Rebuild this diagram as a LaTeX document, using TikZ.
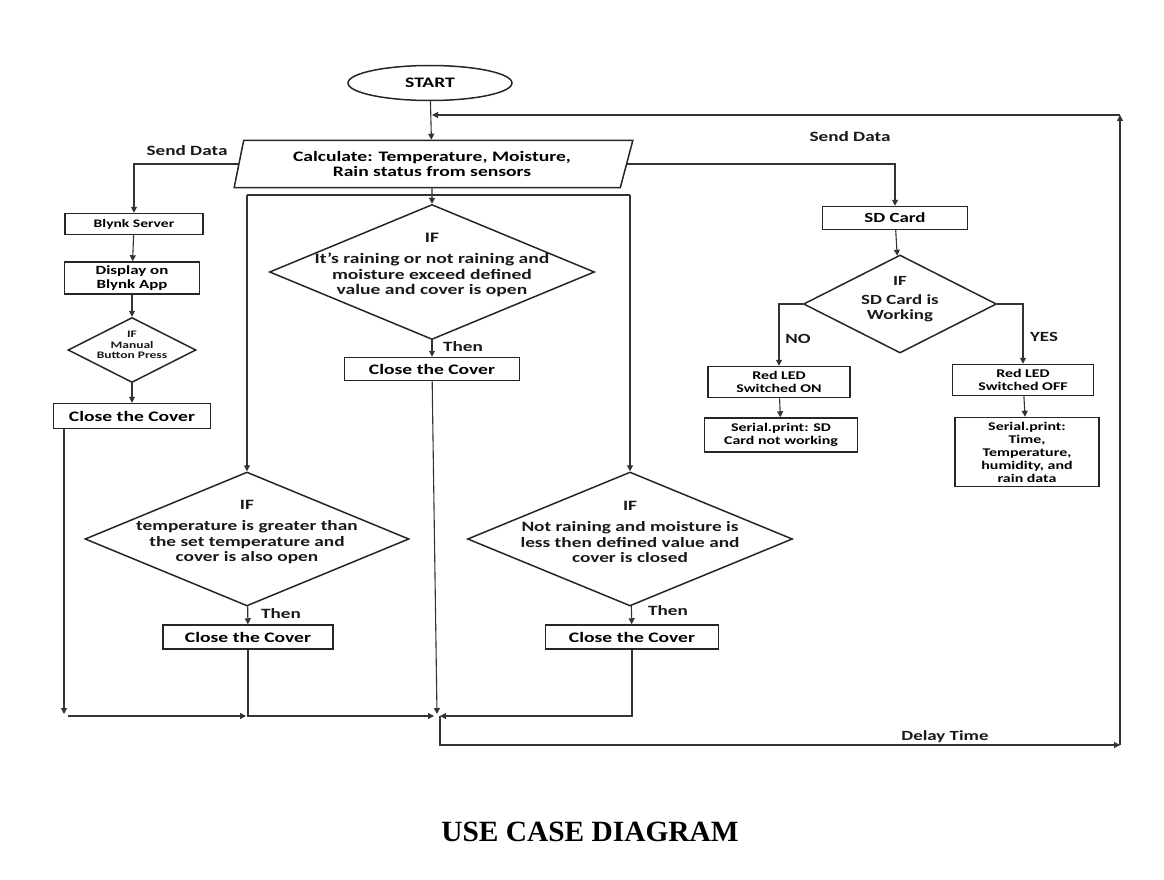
\documentclass[tikz,border=0pt]{standalone}
\usepackage{fontspec}
\setmainfont{Carlito}[FakeStretch=1.35]
\newfontfamily\titlefont{Liberation Serif}
\usetikzlibrary{shapes.geometric}
\usetikzlibrary{arrows.meta}

\begin{document}
\begin{tikzpicture}[x=1pt,y=-1pt,
  line/.style={draw=black!80, line width=1.1pt},
  arr/.style={line, -{Triangle[length=6pt,width=6pt]}},
  box/.style={draw=black!85, line width=1.5pt, rectangle, inner sep=0pt, align=center},
  decision/.style={draw=black!85, line width=1.5pt, diamond, inner sep=0pt},
  txt/.style={align=center, inner sep=0pt, text=black!90},
  fs/.style args={#1/#2}{font=\bfseries\fontsize{#1}{#2}\selectfont}]
\useasboundingbox (0,0) rectangle (1164,880);

% start and input
\node[ellipse, draw=black!85, line width=1.5pt, minimum width=164, minimum height=35, inner sep=0pt, fs=14.5/16] (start) at (430,83) {START};
\node[trapezium, trapezium left angle=74.5, trapezium right angle=110, trapezium stretches=true,
  draw=black!85, line width=1.5pt, minimum width=400, minimum height=47, inner sep=0pt, align=center, fs=14.5/15] (calc) at (432,164)
  {Calculate: Temperature, Moisture,\\Rain status from sensors};

% left column (blynk)
\node[box, minimum width=138, minimum height=21, fs=11.5/13] (blynk) at (134,224) {Blynk Server};
\node[box, minimum width=135, minimum height=32, fs=12.5/14] (app) at (132,278) {Display on\\Blynk App};
\node[decision, minimum width=128, minimum height=65] (man) at (132,350) {};
\node[txt, fs=10/10.5] (mant) at (132,345) {IF\\Manual\\Button Press};
\node[box, minimum width=157, minimum height=25, fs=14.5/16] (cc0) at (132,416) {Close the Cover};

% middle decisions
\node[decision, minimum width=325, minimum height=135] (d1) at (432,272) {};
\node[txt, fs=14.5/15.5] (d1t) at (432,265) {IF\\[6pt]It's raining or not raining and\\moisture exceed defined\\value and cover is open};
\node[box, minimum width=175, minimum height=23, fs=14.5/16] (cc1) at (432,369) {Close the Cover};

\node[decision, minimum width=324, minimum height=134] (d2) at (247,539) {};
\node[txt, fs=14.3/15.5] (d2t) at (247,532) {IF\\[6pt]temperature is greater than\\the set temperature and\\cover is also open};
\node[box, minimum width=170, minimum height=24, fs=14.5/16] (cc2) at (248,637) {Close the Cover};

\node[decision, minimum width=325, minimum height=134] (d3) at (630,539) {};
\node[txt, fs=14.3/15.5] (d3t) at (630,532) {IF\\[6pt]Not raining and moisture is\\less then defined value and\\cover is closed};
\node[box, minimum width=173, minimum height=24, fs=14.5/16] (cc3) at (632,637) {Close the Cover};

% right column (sd card)
\node[box, minimum width=145, minimum height=23, fs=14/15] (sd) at (895,218) {SD Card};
\node[decision, minimum width=193, minimum height=98] (d4) at (900,304) {};
\node[txt, fs=14/15] (d4t) at (900,299) {IF\\[4pt]SD Card is\\Working};
\node[box, minimum width=142, minimum height=31, fs=11.8/13] (on) at (779,382) {Red LED\\Switched ON};
\node[box, minimum width=153, minimum height=34, fs=11.8/13] (spon) at (781,435) {Serial.print: SD\\Card not working};
\node[box, minimum width=141, minimum height=31, fs=11.8/13] (off) at (1023,380) {Red LED\\Switched OFF};
\node[box, minimum width=144, minimum height=69, fs=11.8/13] (spoff) at (1027,452) {Serial.print:\\Time,\\Temperature,\\humidity, and\\rain data};

% labels
\node[txt, fs=14.2/15] (send1) at (187,151) {Send Data};
\node[txt, fs=14.2/15] (send2) at (850,137) {Send Data};
\node[txt, fs=14.2/15] (then1) at (463,347) {Then};
\node[txt, fs=14.2/15] (then2) at (281,614) {Then};
\node[txt, fs=14.2/15] (then3) at (668,611) {Then};
\node[txt, fs=14/15] (no) at (798,339) {NO};
\node[txt, fs=14/15] (yes) at (1044,337) {YES};
\node[txt, fs=14/15] (delay) at (945,737) {Delay Time};
\node[txt, font=\titlefont\bfseries\fontsize{29.4}{32}\selectfont, text=black] (title) at (590,832) {USE CASE DIAGRAM};

% joints
\coordinate (split) at (432,195);
\coordinate (j1) at (64,714);
\coordinate (j2) at (246,716);
\coordinate (j3) at (437,716);
\coordinate (j5) at (1120,745);
\coordinate (j6) at (1120,115);
\coordinate (j7) at (432,115);

% main flow
\draw[arr] (start) -- (calc);
\draw[arr] (calc.west) -| (blynk);
\draw[arr] (calc.east) -| (sd);
\draw[arr] (calc) -- (d1);
\draw[line] (split -| d2.north) -- (split -| d3.north);
\draw[arr] (split -| d2.north) -- (d2);
\draw[arr] (split -| d3.north) -- (d3);
\draw[arr] (d1) -- (cc1);
\draw[arr] (d2) -- (cc2);
\draw[arr] (d3) -- (cc3);

% blynk side
\draw[arr] (blynk) -- (app);
\draw[arr] (app) -- (man);
\draw[arr] (man) -- (cc0);
\draw[arr] (cc0.south -| j1) -- (j1);
\draw[arr] ([xshift=4pt,yshift=-2pt]j1) -- (j2);

% sd side
\draw[arr] (sd) -- (d4);
\draw[arr] (d4.west) -| (on);
\draw[arr] (d4.east) -| (off);
\draw[arr] (on) -- (spon);
\draw[arr] (off) -- (spoff);

% back to the loop
\draw[arr] (cc1) -- ([yshift=2pt]j3);
\draw[arr] (cc2) |- ([xshift=-3pt]j3);
\draw[arr] (cc3) |- ([xshift=3pt]j3);
\draw[arr] ([xshift=3pt]j3) |- (j5);
\draw[arr] (j5) -- (j6);
\draw[arr] (j6) -- (j7);
\end{tikzpicture}
\end{document}
